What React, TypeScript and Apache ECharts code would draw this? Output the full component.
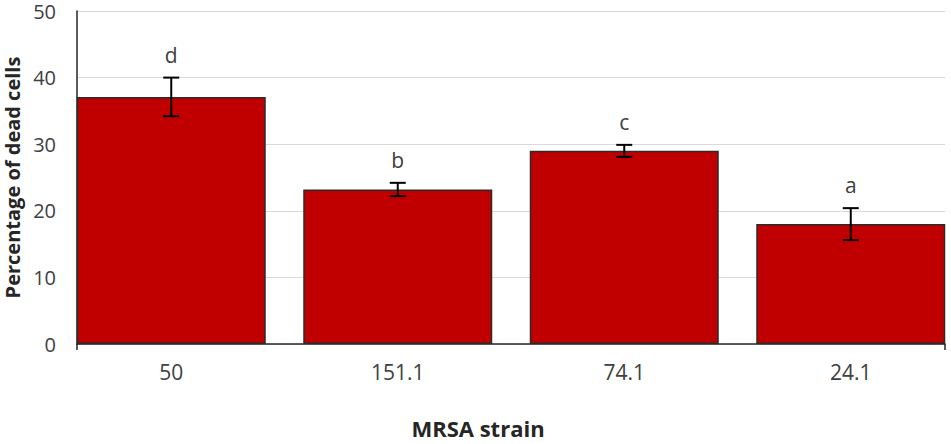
import React, { useEffect, useRef } from "react";
import * as echarts from "echarts";

const categories = ["50", "151.1", "74.1", "24.1"];
const values = [37.1, 23.2, 29.0, 18.0];
const errors = [2.9, 1.0, 0.9, 2.4];
const letters = ["d", "b", "c", "a"];
const yTicks = { min: 0, max: 50, interval: 10 };

const FONT = "'Open Sans', sans-serif";

export default function App() {
  const ref = useRef<HTMLDivElement>(null);
  useEffect(() => {
    if (!ref.current) return;
    const chart = echarts.init(ref.current, undefined, { renderer: "svg" });
    const errData = values.map((v, i) => [i, v - errors[i], v + errors[i], letters[i]]);
    chart.setOption({
      animation: false,
      backgroundColor: "#ffffff",
      textStyle: { fontFamily: FONT },
      grid: [
        { left: 77, right: 6, top: 11, bottom: 100, outerBoundsMode: "none", containLabel: false },
        { left: 58, right: -13, top: 11, bottom: 100, outerBoundsMode: "none", containLabel: false },
      ],
      xAxis: [
        {
          type: "value",
          gridIndex: 0,
          min: 0,
          max: 1,
          interval: 1,
          axisLine: { show: true, lineStyle: { color: "#262626", width: 1.5 } },
          axisTick: { show: true, length: 6, lineStyle: { color: "#262626", width: 1.5 } },
          axisLabel: { show: false },
          splitLine: { show: false },
        },
        {
          type: "category",
          gridIndex: 1,
          data: categories,
          axisLine: { show: false },
          axisTick: { show: false },
          axisLabel: { color: "#404040", fontSize: 21, fontFamily: FONT, margin: 17 },
          splitLine: { show: false },
        },
      ],
      yAxis: [
        {
          type: "value",
          gridIndex: 0,
          min: yTicks.min,
          max: yTicks.max,
          interval: yTicks.interval,
          axisLine: { show: true, lineStyle: { color: "#262626", width: 1.5 } },
          axisTick: { show: false },
          axisLabel: { color: "#404040", fontSize: 20, lineHeight: 20, fontFamily: FONT, margin: 21 },
          splitLine: { show: true, lineStyle: { color: "#d9d9d9", width: 1 } },
          name: "Percentage of dead cells",
          nameLocation: "middle",
          nameGap: 55,
          nameTextStyle: { color: "#262626", fontSize: 20, fontWeight: "bold", fontFamily: FONT },
        },
        {
          type: "value",
          gridIndex: 1,
          min: yTicks.min,
          max: yTicks.max,
          show: false,
          splitLine: { show: false },
        },
      ],
      graphic: [
        {
          type: "text",
          x: 478,
          y: 428,
          style: {
            text: "MRSA strain",
            fill: "#262626",
            font: `bold 22px ${FONT}`,
            lineHeight: 22,
            textAlign: "center",
            textVerticalAlign: "middle",
          },
        },
      ],
      series: [
        {
          type: "bar",
          xAxisIndex: 1,
          yAxisIndex: 1,
          data: values,
          barWidth: 189,
          itemStyle: { color: "#c00000", borderColor: "#2b2b2b", borderWidth: 1.5 },
          z: 2,
        },
        {
          type: "custom",
          xAxisIndex: 1,
          yAxisIndex: 1,
          data: errData,
          z: 5,
          renderItem: (params: any, api: any) => {
            const idx = api.value(0);
            const lo = api.coord([idx, api.value(1)]);
            const hi = api.coord([idx, api.value(2)]);
            const letter = letters[params.dataIndex];
            const cap = 8;
            const style = { stroke: "#000000", lineWidth: 2 };
            return {
              type: "group",
              children: [
                { type: "line", shape: { x1: hi[0], y1: hi[1], x2: lo[0], y2: lo[1] }, style },
                { type: "line", shape: { x1: hi[0] - cap, y1: hi[1], x2: hi[0] + cap, y2: hi[1] }, style },
                { type: "line", shape: { x1: lo[0] - cap, y1: lo[1], x2: lo[0] + cap, y2: lo[1] }, style },
                {
                  type: "text",
                  x: hi[0],
                  y: hi[1] - 23,
                  style: {
                    text: letter,
                    fill: "#404040",
                    font: `21px ${FONT}`,
                    textAlign: "center",
                    textVerticalAlign: "middle",
                  },
                },
              ],
            };
          },
        },
      ],
    });
    return () => chart.dispose();
  }, []);
  return (
    <div
      ref={ref}
      style={{ position: "absolute", left: 0, top: 0, width: 951, height: 444 }}
    />
  );
}
